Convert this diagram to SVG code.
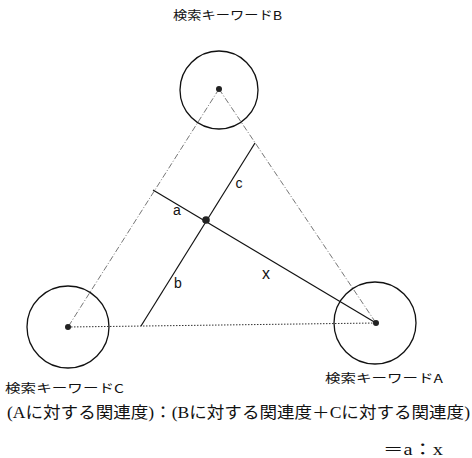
<svg xmlns="http://www.w3.org/2000/svg" width="472" height="458" viewBox="0 0 472 458">
<style>
.ring{fill:none;stroke:#111;stroke-width:1.3}
.dot{fill:#222}
.side{stroke:#666;stroke-width:0.9;stroke-dasharray:6 2 1 2;fill:none}
.base{stroke:#333;stroke-width:1;stroke-dasharray:1.5 1.5;fill:none}
.solid{stroke:#111;stroke-width:1.2;fill:none}
.lbl{font-family:"Noto Sans CJK JP","Noto Sans",sans-serif;font-size:12px;fill:#111}
.var{font-family:"Liberation Sans",Arial,sans-serif;font-size:14px;fill:#111}
.eq{font-family:"Liberation Serif","Noto Sans CJK JP",serif;font-size:16px;fill:#111}
</style>
<rect width="472" height="458" fill="#fff"/>
<g id="connectors">
<line class="side" x1="219" y1="89" x2="68" y2="327"/>
<line class="side" x1="219" y1="89" x2="376" y2="323"/>
<line class="base" x1="68" y1="327" x2="376" y2="323"/>
<line class="solid" x1="153" y1="190" x2="376" y2="323"/>
<line class="solid" x1="141" y1="326" x2="255" y2="143"/>
<circle class="dot" cx="206" cy="220" r="3.8"/>
<text class="var" x="239" y="188" text-anchor="middle">c</text>
<text class="var" x="177" y="215" text-anchor="middle">a</text>
<text class="var" x="178" y="288" text-anchor="middle">b</text>
<text class="var" x="266" y="279" text-anchor="middle" style="font-size:16px">x</text>
</g>
<g id="nodeB">
<circle class="ring" cx="219" cy="90" r="39"/>
<circle class="dot" cx="219" cy="89" r="3"/>
<text class="lbl" x="173" y="20" textLength="109" lengthAdjust="spacingAndGlyphs">検索キーワードB</text>
</g>
<g id="nodeC">
<circle class="ring" cx="68" cy="327" r="41"/>
<circle class="dot" cx="68" cy="327" r="3"/>
<text class="lbl" x="5" y="393" textLength="119" lengthAdjust="spacingAndGlyphs">検索キーワードC</text>
</g>
<g id="nodeA">
<circle class="ring" cx="375" cy="323" r="41"/>
<circle class="dot" cx="376" cy="323" r="3"/>
<text class="lbl" x="325" y="383" textLength="118" lengthAdjust="spacingAndGlyphs">検索キーワードA</text>
</g>
<text class="eq" x="7" y="418" textLength="463" lengthAdjust="spacingAndGlyphs">(Aに対する関連度)：(Bに対する関連度＋Cに対する関連度)</text>
<text class="eq" x="383" y="455" textLength="60" lengthAdjust="spacingAndGlyphs">＝a：x</text>
</svg>
